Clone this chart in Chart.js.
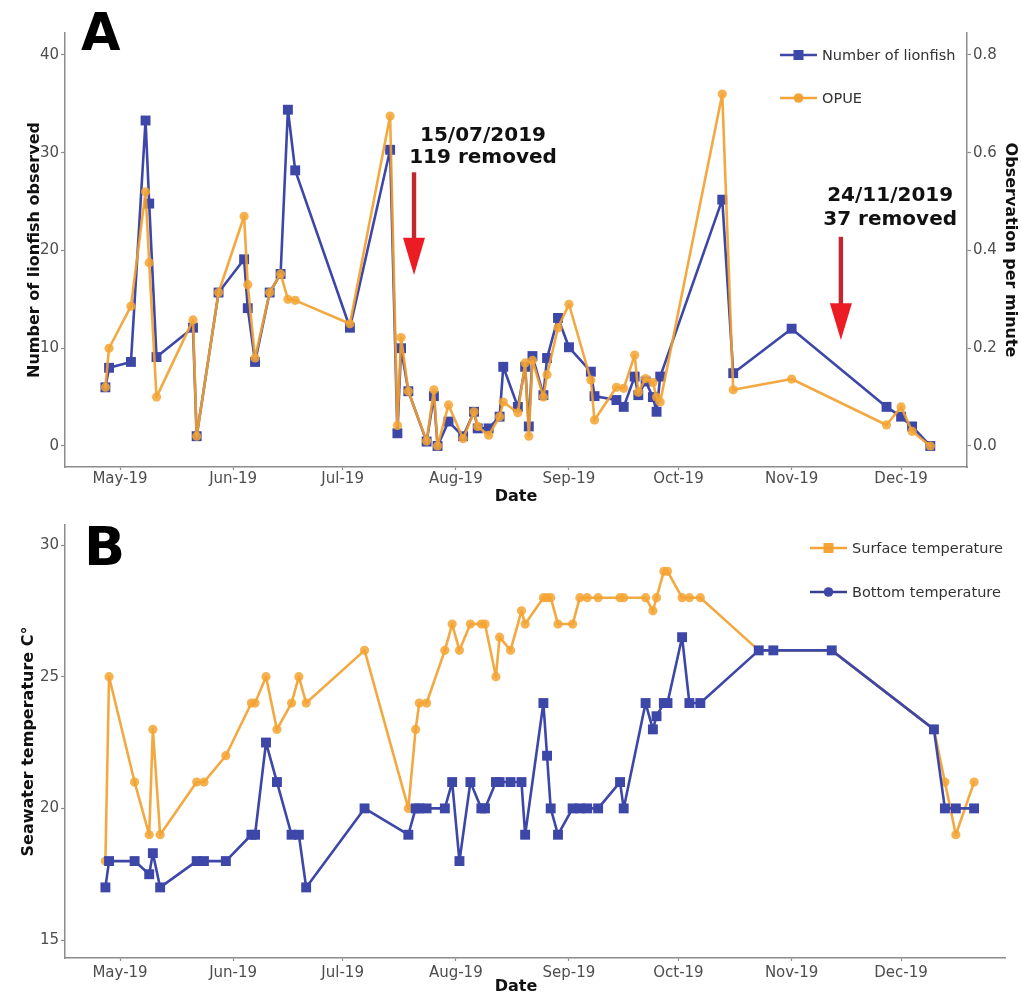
<!DOCTYPE html>
<html><head><meta charset="utf-8">
<script src="https://cdn.jsdelivr.net/npm/chart.js@4.4.1/dist/chart.umd.min.js"></script>
<style>
html,body{margin:0;padding:0;background:#fff;}
#wrap{position:relative;width:1021px;height:996px;overflow:hidden;}
.pane{position:absolute;left:0;}
</style></head><body>
<div id="wrap">
<div class="pane" style="top:0"><canvas id="ca" width="1021" height="510"></canvas></div>
<div class="pane" style="top:510px"><canvas id="cb" width="1021" height="486"></canvas></div>
</div>
<script>
// ---------------- data ----------------
const surveyDatesA = ['2019-04-27','2019-04-28','2019-05-04','2019-05-08','2019-05-09','2019-05-11',
'2019-05-21','2019-05-22','2019-05-28','2019-06-04','2019-06-05','2019-06-07',
'2019-06-11','2019-06-14','2019-06-16','2019-06-18','2019-07-03','2019-07-14',
'2019-07-16','2019-07-17','2019-07-19','2019-07-24','2019-07-26','2019-07-27',
'2019-07-30','2019-08-03','2019-08-06','2019-08-07','2019-08-10','2019-08-13',
'2019-08-14','2019-08-18','2019-08-20','2019-08-21','2019-08-22','2019-08-25',
'2019-08-26','2019-08-29','2019-09-01','2019-09-07','2019-09-08','2019-09-14',
'2019-09-16','2019-09-19','2019-09-20','2019-09-22','2019-09-24','2019-09-25',
'2019-09-26','2019-10-13','2019-10-16','2019-11-01','2019-11-27','2019-12-01',
'2019-12-04','2019-12-09'];
const lionfishCount = [6,8,8.6,33.3,24.8,9.1, 12.1,1,15.7,19.1,14.1,8.6, 15.7,17.6,34.4,28.2,12.1,30.3,
1.3,10,5.6,0.45,5.1,0, 2.5,1,3.5,1.8,1.8,3, 8.1,4,8.1,2,9.2,5.2,
9,13.1,10.1,7.6,5.1,4.7, 4,7.1,5.2,6.6,5,3.5, 7.1,25.2,7.45,12,4,3, 2,0];
const opue = [0.12,0.20,0.286,0.52,0.375,0.10, 0.258,0.02,0.314,0.47,0.33,0.18, 0.314,0.352,0.30,0.298,0.25,0.675,
0.042,0.222,0.112,0.01,0.115,0, 0.084,0.015,0.07,0.04,0.022,0.06, 0.09,0.068,0.17,0.02,0.175,0.10,
0.146,0.242,0.29,0.135,0.053,0.12, 0.118,0.186,0.11,0.138,0.13,0.10, 0.09,0.72,0.115,0.137,0.043,0.08, 0.03,0];

const surveyDatesB = ['2019-04-27','2019-04-28','2019-05-05','2019-05-09','2019-05-10','2019-05-12','2019-05-22','2019-05-24','2019-05-30',
'2019-06-06','2019-06-07','2019-06-10','2019-06-13','2019-06-17','2019-06-19','2019-06-21',
'2019-07-07','2019-07-19','2019-07-21','2019-07-22','2019-07-24','2019-07-29','2019-07-31',
'2019-08-02','2019-08-05','2019-08-08','2019-08-09','2019-08-12','2019-08-13','2019-08-16','2019-08-19','2019-08-20','2019-08-25','2019-08-26','2019-08-27','2019-08-29',
'2019-09-02','2019-09-04','2019-09-06','2019-09-09','2019-09-15','2019-09-16','2019-09-22','2019-09-24','2019-09-25','2019-09-27','2019-09-28',
'2019-10-02','2019-10-04','2019-10-07','2019-10-23','2019-10-27','2019-11-12','2019-12-10','2019-12-13','2019-12-16','2019-12-21'];
const surfaceTemp = [18,25,21,19,23,19,21,21,22, 24,24,25,23,24,25,24, 26,20,23,24,24,26,27,
26,27,27,27,25,26.5,26,27.5,27,28,28,28,27, 27,28,28,28,28,28,28,27.5,28,29,29, 28,28,28,26,26, 26, 23,21,19,21];
const bottomTemp = [17,18,18,17.5,18.3,17,18,18,18, 19,19,22.5,21,19,19,17, 20,19,20,20,20,20,21,
18,21,20,20,21,21,21,21,19,24,22,20,19, 20,20,20,20,21,20,24,23,23.5,24,24, 26.5,24,24,26,26, 26, 23,20,20,20];

const monthStarts = ['2019-05-01','2019-06-01','2019-07-01','2019-08-01','2019-09-01','2019-10-01','2019-11-01','2019-12-01'];
const monthLabels = ['May-19','Jun-19','Jul-19','Aug-19','Sep-19','Oct-19','Nov-19','Dec-19'];
const countTicks = [0,10,20,30,40];
const opueTicks = [0,0.2,0.4,0.6,0.8];
const tempTicks = [15,20,25,30];
const removalNotes = [['15/07/2019','119 removed'],['24/11/2019','37 removed']];
const seriesNamesA = ['Number of lionfish','OPUE'];
const seriesNamesB = ['Surface temperature','Bottom temperature'];

// ---------------- helpers ----------------
const DAY0 = Date.UTC(2019,4,1);
function dayOf(s){const p=s.split('-').map(Number);return (Date.UTC(p[0],p[1]-1,p[2])-DAY0)/864e5;}
const FONT = "'DejaVu Sans', sans-serif";
Chart.defaults.font.family = FONT;
Chart.defaults.color = '#4d4d4d';
const BLUE = '#3d47a8';
const ORANGE = 'rgba(242,160,45,0.9)';
const ORANGE_PT = 'rgba(244,164,50,0.85)';
const AXIS = '#8c8c8c';
const X_MIN = -15.07, X_MAX_A = 232.05, X_MAX_B = 242.47;

function pts(dates, vals){return dates.map((d,i)=>({x:dayOf(d), y:vals[i]}));}
function xAxis(max, height, pad, showTitle){
  return {type:'linear', position:'bottom', min:X_MIN, max:max,
    afterBuildTicks:s=>{s.ticks = monthStarts.map(m=>({value:dayOf(m)}));},
    ticks:{autoSkip:false, maxRotation:0, padding:pad, font:{size:15}, color:'#4d4d4d',
      callback:v=>{const i=monthStarts.findIndex(m=>dayOf(m)===v);return i>=0?monthLabels[i]:'';}},
    grid:{display:true, drawOnChartArea:false, drawTicks:true, tickLength:3, tickColor:AXIS, tickWidth:1.2},
    border:{display:true, color:AXIS, width:1.5},
    title:{display:showTitle, text:'Date', color:'#111', font:{size:16, weight:'bold'}, padding:{top:0,bottom:3.4}},
    afterFit:s=>{s.height=height;}};
}
function yAxis(pos, min, max, tickVals, fmt, width, title, tpad){
  return {type:'linear', position:pos, min:min, max:max,
    afterBuildTicks:s=>{s.ticks = tickVals.map(v=>({value:v}));},
    ticks:{padding:2, font:{size:15}, color:'#4d4d4d', callback:fmt},
    grid:{display:true, drawOnChartArea:false, drawTicks:true, tickLength:4, tickColor:AXIS, tickWidth:1.2},
    border:{display:true, color:AXIS, width:1.5},
    title:{display:true, text:title, color:'#111', font:{size:16, weight:'bold'}, padding:{top:tpad,bottom:0}},
    afterFit:s=>{s.width=width;}};
}
function drawLegendItem(ctx, x0, x1, y, color, shape, mcolor, text, tx){
  ctx.save();
  ctx.strokeStyle=color; ctx.lineWidth=2.5;
  ctx.beginPath(); ctx.moveTo(x0,y); ctx.lineTo(x1,y); ctx.stroke();
  const cx=(x0+x1)/2;
  ctx.fillStyle=mcolor;
  if(shape==='rect'){ctx.fillRect(cx-5,y-5,10,10);}
  else {ctx.beginPath(); ctx.arc(cx,y,4.8,0,Math.PI*2); ctx.fill();}
  ctx.fillStyle='#333'; ctx.font='14.5px '+FONT; ctx.textAlign='left'; ctx.textBaseline='middle';
  ctx.fillText(text, tx, y+1);
  ctx.restore();
}
function drawArrow(ctx, x, yTop, yHead, yTip){
  ctx.save();
  ctx.fillStyle='#c3262d';
  ctx.fillRect(x-2.2, yTop, 4.4, yHead-yTop+1);
  ctx.fillStyle='#ec1c24';
  ctx.beginPath(); ctx.moveTo(x-11,yHead); ctx.lineTo(x+11,yHead); ctx.lineTo(x,yTip); ctx.closePath(); ctx.fill();
  ctx.restore();
}
const lineStyle = {borderWidth:2.6, borderJoinStyle:'round', borderCapStyle:'round', pointBorderWidth:0, tension:0};

// ---------------- panel A ----------------
const panelAPlugin = {
  id:'panelA',
  afterDatasetsDraw(chart){
    const ctx=chart.ctx, x=chart.scales.x, y=chart.scales.y;
    const arrows=[{d:80.55, top:28.0, head:21.3, tip:17.5},{d:197.5, top:21.4, head:14.6, tip:10.85}];
    const notes=[{d:99.45, y1:31.75, y2:29.45},{d:211, y1:25.55, y2:23.1}];
    arrows.forEach(a=>drawArrow(ctx, x.getPixelForValue(a.d), y.getPixelForValue(a.top), y.getPixelForValue(a.head), y.getPixelForValue(a.tip)));
    ctx.save();
    ctx.fillStyle='#111'; ctx.font='bold 20px '+FONT; ctx.textAlign='center'; ctx.textBaseline='middle';
    notes.forEach((n,i)=>{
      const px=x.getPixelForValue(n.d);
      ctx.fillText(removalNotes[i][0], px, y.getPixelForValue(n.y1));
      ctx.fillText(removalNotes[i][1], px, y.getPixelForValue(n.y2));
    });
    ctx.restore();
  },
  afterDraw(chart){
    const ctx=chart.ctx;
    drawLegendItem(ctx, 780, 817, 55, BLUE, 'rect', BLUE, seriesNamesA[0], 822);
    drawLegendItem(ctx, 780, 817, 98, 'rgba(242,160,45,0.95)', 'circle', 'rgba(242,160,45,0.95)', seriesNamesA[1], 822);
    ctx.save(); ctx.fillStyle='#000'; ctx.font='bold 51px '+FONT; ctx.textAlign='left'; ctx.textBaseline='alphabetic';
    ctx.fillText('A', 81, 50); ctx.restore();
  }
};
new Chart(document.getElementById('ca'), {
  type:'line',
  data:{datasets:[
    Object.assign({label:seriesNamesA[1], data:pts(surveyDatesA, opue), yAxisID:'y2', borderColor:ORANGE, backgroundColor:ORANGE_PT,
     pointStyle:'circle', pointRadius:4.6, pointHoverRadius:4.6, order:0}, lineStyle),
    Object.assign({label:seriesNamesA[0], data:pts(surveyDatesA, lionfishCount), yAxisID:'y', borderColor:BLUE, backgroundColor:BLUE,
     pointStyle:'rect', pointRadius:7, pointHoverRadius:7, order:1}, lineStyle)
  ]},
  options:{responsive:false, animation:false, devicePixelRatio:1,
    layout:{padding:{top:33,left:0,right:0,bottom:0}},
    plugins:{legend:{display:false}, tooltip:{enabled:false}},
    scales:{
      x:xAxis(X_MAX_A, 43, 0, true),
      y:yAxis('left', -2.15, 42.25, countTicks, v=>String(v), 65, 'Number of lionfish observed', 25.4),
      y2:yAxis('right', -2.15/50, 42.25/50, opueTicks, v=>v.toFixed(1), 54, 'Observation per minute', 1.4)
    }},
  plugins:[panelAPlugin]
});

// ---------------- panel B ----------------
const panelBPlugin = {
  id:'panelB',
  afterDraw(chart){
    const ctx=chart.ctx;
    drawLegendItem(ctx, 810, 847, 38, 'rgba(242,160,45,0.95)', 'rect', 'rgba(242,160,45,0.95)', seriesNamesB[0], 852);
    drawLegendItem(ctx, 810, 847, 82, '#3a3f8f', 'circle', BLUE, seriesNamesB[1], 852);
    ctx.save(); ctx.fillStyle='#000'; ctx.font='bold 54px '+FONT; ctx.textAlign='left'; ctx.textBaseline='alphabetic';
    ctx.fillText('B', 84, 55);
    ctx.fillStyle='#111'; ctx.font='bold 16px '+FONT; ctx.textAlign='center'; ctx.textBaseline='middle';
    ctx.fillText('Date', 516, 477);
    ctx.restore();
  }
};
new Chart(document.getElementById('cb'), {
  type:'line',
  data:{datasets:[
    Object.assign({label:seriesNamesB[0], data:pts(surveyDatesB, surfaceTemp), borderColor:ORANGE, backgroundColor:ORANGE_PT,
     pointStyle:'circle', pointRadius:4.6, pointHoverRadius:4.6, order:1}, lineStyle),
    Object.assign({label:seriesNamesB[1], data:pts(surveyDatesB, bottomTemp), borderColor:BLUE, backgroundColor:BLUE,
     pointStyle:'rect', pointRadius:7, pointHoverRadius:7, order:0}, lineStyle)
  ]},
  options:{responsive:false, animation:false, devicePixelRatio:1,
    layout:{padding:{top:15,left:0,right:16,bottom:0}},
    plugins:{legend:{display:false}, tooltip:{enabled:false}},
    scales:{
      x:xAxis(X_MAX_B, 38, 3, false),
      y:yAxis('left', 14.32, 30.76, tempTicks, v=>String(v), 65, 'Seawater temperature C°', 19)
    }},
  plugins:[panelBPlugin]
});
</script>
</body></html>
